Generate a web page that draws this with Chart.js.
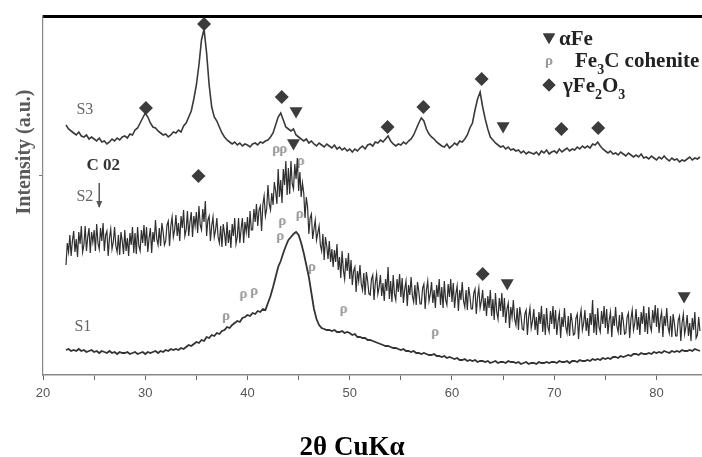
<!DOCTYPE html>
<html>
<head>
<meta charset="utf-8">
<script src="https://cdn.jsdelivr.net/npm/chart.js@4.4.1/dist/chart.umd.min.js"></script>
<style>
  html, body { margin: 0; padding: 0; background: #fff; }
  #xrd { display: block; }
</style>
</head>
<body>
<canvas id="xrd" width="702" height="457"></canvas>
<script>
// scan grids (2theta, degrees)
const angleStart = 22.25;
const angleStep = 0.25;     // S1, S3
const s2Step = 0.125;       // S2 (noisier scan)

// S1 intensity (a.u.), one group per degree
const s1Values = [25,26,24,
  25,24,26,24, 25,23,24,25, 23,24,22,24, 23,22,24,22, 23,21,23,22,
  22,23,21,22, 23,21,22,23, 21,23,22,23, 24,22,24,23, 25,24,26,25,
  26,25,27,26, 28,30,29,31, 33,32,35,34, 38,37,40,39, 42,41,44,45,
  48,47,50,52, 54,53,57,58, 60,59,62,61, 64,63,66,65, 72,79,88,98,
  108,114,122,129, 135,138,141,143, 140,132,122,110, 98,82,66,56, 50,47,46,45,
  45,44,45,43, 43,44,42,43, 42,40,41,38, 38,37,37,35, 35,34,33,32,
  31,30,29,29, 28,27,27,26, 25,26,24,24, 23,24,22,22, 21,22,21,20,
  20,21,19,19, 18,19,17,18, 17,16,17,15, 15,16,14,15, 14,15,13,14,
  14,13,14,12, 13,14,12,13, 13,12,14,13, 13,12,13,11, 12,13,11,12,
  12,11,13,12, 12,13,12,13, 13,12,14,13, 13,14,12,14, 14,13,15,14,
  14,15,14,16, 15,16,15,17, 16,17,16,18, 18,17,19,18, 19,20,19,21,
  21,20,22,21, 21,22,21,23, 22,23,22,24, 23,22,24,23, 24,23,25,24,
  24,25,24,26, 25,24];

// S2 intensity (a.u.), 8 readings per degree
const s2Values = [110,132,123,140,119,134,
  144,123,136,118,143,131,149,123,  130,149,124,138,147,122,143,133,
  145,124,151,132,126,147,134,152,  124,140,144,119,137,146,126,133,
  148,129,123,140,120,143,134,121,  145,124,137,119,142,130,148,122,
  142,121,148,129,124,145,132,150,  129,148,123,137,147,122,143,133,
  155,136,130,147,129,152,143,130,  134,150,154,129,149,158,138,145,
  160,139,152,134,159,147,165,139,  145,164,139,153,163,138,159,149,
  163,142,169,150,145,166,153,174,  139,155,159,134,149,158,138,145,
  157,138,132,149,128,151,142,129,  153,132,145,127,151,139,157,131,
  138,157,132,146,157,132,153,143,  158,137,164,145,145,166,153,171,
  149,165,169,144,170,179,159,166,  190,171,165,182,170,193,184,171,
  206,178,195,172,206,190,214,180,  207,181,214,191,186,211,196,217,
  184,203,178,192,182,157,178,168,  141,157,161,136,146,155,135,142,
  149,130,124,141,115,138,129,116,  134,113,126,108,125,113,131,105,
  118,97,124,105,96,117,104,122,    96,115,90,104,108,83,104,94,
  110,91,85,102,80,103,94,81,       80,96,100,75,92,101,81,88,
  100,79,92,74,96,84,108,76,        94,73,100,81,75,96,83,101,
  78,97,72,86,94,69,90,80,          98,79,73,90,70,93,84,71,
  71,87,91,66,85,94,74,81,          93,72,85,67,90,78,96,70,
  88,67,94,75,70,91,78,96,          73,92,67,81,89,64,85,75,
  93,74,68,85,65,88,79,66,          66,82,86,61,78,87,67,74,
  85,64,77,59,79,67,85,59,          76,55,82,63,56,77,64,82,
  58,77,52,66,72,47,68,58,          75,56,50,67,45,68,59,46,
  45,61,65,40,58,67,47,54,          66,45,58,40,63,51,69,43,
  61,40,67,48,43,64,51,69,          46,65,40,54,62,37,58,48,
  67,48,42,59,39,62,53,40,          41,57,61,36,56,65,45,52,
  65,44,57,39,62,50,75,42,          61,40,67,48,43,64,51,69,
  47,66,41,55,63,38,59,49,          68,49,43,60,40,63,54,41,
  42,58,62,37,56,65,45,52,          66,45,58,40,63,51,69,43,
  62,41,68,49,44,65,52,70,          48,67,42,56,63,38,59,49,
  67,48,42,59,38,61,52,39,          39,55,59,34,52,61,41,48,
  60,39,52,34,57,45,63,37,
  40,58,44];

// S3 intensity (a.u.)
const s3Values = [250,246,244,
  242,240,243,239, 238,240,236,238, 236,234,237,233, 234,231,233,236, 234,237,235,238,
  239,237,241,240, 245,247,252,257, 262,258,252,248, 247,244,242,240, 241,238,240,243,
  242,245,243,249, 252,258,264,276, 290,310,335,346, 322,290,268,258, 254,248,242,238,
  235,233,231,233, 230,232,229,231, 230,228,231,232, 230,233,232,234, 235,238,242,250,
  258,262,255,248, 246,244,246,240, 238,236,234,236, 232,234,231,229, 232,230,228,231,
  229,227,230,226, 228,225,227,224, 226,223,226,224, 227,229,226,230, 231,229,233,232,
  235,233,236,239, 234,231,229,231, 230,233,231,234, 236,240,246,252, 257,254,246,241,
  238,236,233,231, 229,228,231,227, 229,232,230,234, 233,236,240,247, 252,265,276,283,
  268,256,246,238, 235,232,230,228, 229,226,228,225, 226,224,225,222, 224,221,223,222,
  221,223,220,224, 222,225,221,223, 224,222,226,223, 225,227,224,226, 225,228,226,229,
  227,229,227,231, 230,233,229,226, 224,222,224,221, 222,220,223,221, 219,222,220,218,
  220,218,221,217, 218,216,219,217, 215,218,216,219, 216,214,217,215, 216,213,215,214,
  216,218,215,217, 216,218];

// phase markers
const gammaX = [30.07, 35.75, 43.35, 53.7, 57.2, 62.9, 70.7, 74.3, 35.2, 63.0];
const gammaY = [267, 351, 278, 248, 268, 296, 246, 247, 199, 101];
const alphaX = [44.75, 65.0, 44.5, 65.4, 82.7];
const alphaY = [264, 249, 232, 92, 79];
const cementiteX = [42.8, 43.5, 45.2, 43.4, 43.2, 45.1, 46.3, 49.4, 58.35, 37.9, 39.6, 40.65];
const cementiteY = [225, 225, 213, 153, 138, 160, 107, 65, 42, 58, 80, 83];

const SERIF = '"Liberation Serif", "Times New Roman", serif';
const SANS = '"Liberation Sans", Arial, sans-serif';

function toPoints(values, step) {
    return values.map((v, i) => ({ x: angleStart + i * step, y: v }));
}
function zip(xs, ys) {
    return xs.map((x, i) => ({ x: x, y: ys[i] }));
}

// little grey glyph used for Fe3C
function makeGlyph() {
    const c = document.createElement('canvas');
    c.width = 12; c.height = 16;
    const g = c.getContext('2d');
    g.fillStyle = '#9a9a9a';
    g.font = 'bold 15px ' + SERIF;
    g.textAlign = 'center';
    g.textBaseline = 'middle';
    g.fillText('ρ', 6, 7);
    return c;
}
const cementiteGlyph = makeGlyph();

function lineSet(label, values, step, color, width) {
    return {
        type: 'line',
        label: label,
        data: toPoints(values, step),
        borderColor: color,
        borderWidth: width,
        pointRadius: 0,
        tension: 0,
        fill: false
    };
}
function markerSet(label, xs, ys, style, radius, rotation) {
    return {
        type: 'scatter',
        label: label,
        data: zip(xs, ys),
        pointStyle: style,
        pointRadius: radius,
        pointRotation: rotation || 0,
        backgroundColor: '#3c3c3c',
        borderColor: '#3c3c3c',
        borderWidth: 0,
        showLine: false
    };
}

// rich text with subscripts
function drawRich(ctx, parts, x, y, size) {
    let cx = x;
    parts.forEach(p => {
        const fs = p.sub ? Math.round(size * 0.65) : size;
        ctx.font = 'bold ' + fs + 'px ' + SERIF;
        ctx.fillText(p.t, cx, y + (p.sub ? 7 : 0));
        cx += ctx.measureText(p.t).width;
    });
}

const sampleLabels = [
    { text: 'S3', x: 24.1, y: 265 },
    { text: 'S2', x: 24.1, y: 178 },
    { text: 'S1', x: 23.9, y: 48 }
];

const textPlugin = {
    id: 'texts',
    afterDraw(chart) {
        const ctx = chart.ctx;
        const xs = chart.scales.x, ys = chart.scales.y;
        ctx.save();

        // sample names
        ctx.fillStyle = '#666';
        ctx.font = '16px ' + SERIF;
        ctx.textAlign = 'center';
        ctx.textBaseline = 'middle';
        sampleLabels.forEach(l => {
            ctx.fillText(l.text, xs.getPixelForValue(l.x), ys.getPixelForValue(l.y));
        });

        // C 02 note and arrow
        ctx.fillStyle = '#333';
        ctx.font = 'bold 17px ' + SERIF;
        ctx.fillText('C 02', xs.getPixelForValue(25.9), ys.getPixelForValue(209));
        const ax = xs.getPixelForValue(25.5);
        const ay0 = ys.getPixelForValue(192), ay1 = ys.getPixelForValue(168);
        ctx.strokeStyle = '#555';
        ctx.lineWidth = 1.5;
        ctx.beginPath();
        ctx.moveTo(ax, ay0);
        ctx.lineTo(ax, ay1);
        ctx.stroke();
        ctx.fillStyle = '#555';
        ctx.beginPath();
        ctx.moveTo(ax - 3, ay1 - 6);
        ctx.lineTo(ax + 3, ay1 - 6);
        ctx.lineTo(ax, ay1 + 1);
        ctx.closePath();
        ctx.fill();

        // legend
        const H = Chart.helpers;
        ctx.fillStyle = '#3c3c3c';
        ctx.strokeStyle = '#3c3c3c';
        H.drawPoint(ctx, { pointStyle: 'triangle', rotation: 180, radius: 7, borderWidth: 0 }, 549, 37);
        ctx.fill();
        H.drawPoint(ctx, { pointStyle: 'rectRot', rotation: 0, radius: 6.5, borderWidth: 0 }, 549, 85);
        ctx.fill();
        ctx.drawImage(cementiteGlyph, 543, 54);

        ctx.fillStyle = '#222';
        ctx.textAlign = 'left';
        ctx.textBaseline = 'alphabetic';
        drawRich(ctx, [{ t: 'αFe' }], 559, 45, 21);
        drawRich(ctx, [{ t: 'Fe' }, { t: '3', sub: true }, { t: 'C cohenite' }], 575, 67, 21);
        drawRich(ctx, [{ t: 'γFe' }, { t: '2', sub: true }, { t: 'O' }, { t: '3', sub: true }], 563, 92, 21);

        // axis titles
        ctx.fillStyle = '#5a5a5a';
        ctx.font = 'bold 20px ' + SERIF;
        ctx.textAlign = 'center';
        ctx.textBaseline = 'middle';
        ctx.translate(25, 152);
        ctx.rotate(-Math.PI / 2);
        ctx.fillText('Intensity (a.u.)', 0, 0);
        ctx.setTransform(1, 0, 0, 1, 0, 0);

        ctx.fillStyle = '#000';
        ctx.font = 'bold 27px ' + SERIF;
        ctx.textBaseline = 'alphabetic';
        ctx.fillText('2θ CuKα', 352, 455);
        ctx.restore();
    }
};

const ctx = document.getElementById('xrd').getContext('2d');
new Chart(ctx, {
    data: {
        datasets: [
            lineSet('S1', s1Values, angleStep, '#333', 1.8),
            lineSet('S2', s2Values, s2Step, '#2f2f2f', 1.2),
            lineSet('S3', s3Values, angleStep, '#3a3a3a', 1.6),
            markerSet('γFe2O3', gammaX, gammaY, 'rectRot', 7),
            markerSet('αFe', alphaX, alphaY, 'triangle', 7.5, 180),
            {
                type: 'scatter',
                label: 'Fe3C',
                data: zip(cementiteX, cementiteY),
                pointStyle: cementiteGlyph,
                showLine: false
            }
        ]
    },
    options: {
        responsive: false,
        animation: false,
        devicePixelRatio: 1,
        layout: { padding: 0, autoPadding: false },
        plugins: {
            legend: { display: false },
            tooltip: { enabled: false }
        },
        scales: {
            x: {
                type: 'linear',
                min: 20,
                max: 84.45,
                afterFit(scale) { scale.height = 82; },
                grid: { drawOnChartArea: false, drawTicks: true, tickLength: 5, color: '#666', lineWidth: 1 },
                border: { color: '#888', width: 1.5 },
                ticks: {
                    stepSize: 5,
                    includeBounds: false,
                    autoSkip: false,
                    padding: 6,
                    color: '#555',
                    font: { family: SANS, size: 13 },
                    maxRotation: 0,
                    callback: v => (v % 10 === 0 ? v : '')
                }
            },
            x2: {
                type: 'linear',
                position: 'top',
                min: 20,
                max: 84.45,
                afterFit(scale) { scale.height = 16; },
                grid: { display: false },
                border: { color: '#000', width: 3 },
                ticks: { display: false }
            },
            y: {
                type: 'linear',
                min: 0,
                max: 359,
                afterFit(scale) { scale.width = 43; },
                afterBuildTicks(scale) {
                    scale.ticks = scale.ticks.filter(t => t.value === 200);
                },
                grid: { drawOnChartArea: false, drawTicks: true, tickLength: 4, color: '#777' },
                border: { color: '#888', width: 1.2 },
                ticks: { display: false, stepSize: 200, includeBounds: false }
            }
        }
    },
    plugins: [textPlugin]
});
</script>
</body>
</html>
